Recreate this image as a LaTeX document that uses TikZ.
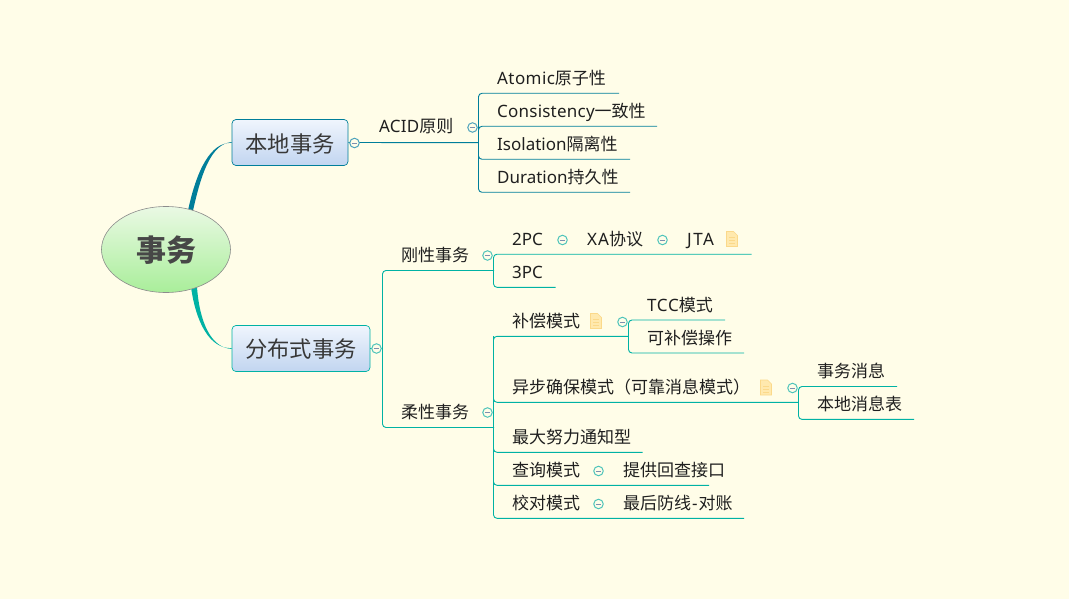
\documentclass[tikz,border=0pt]{standalone}
\usepackage{fontspec}
\setmainfont{Noto Sans CJK SC}
\newfontfamily\lat{Noto Sans}
\newcommand{\lsp}[2]{{\lat\addfontfeature{LetterSpace=#1}#2}}
\usetikzlibrary{backgrounds,shapes.geometric}
\definecolor{bgc}{HTML}{FFFDE8}
\definecolor{tealA}{HTML}{007E9A}
\definecolor{tealB}{HTML}{00B2A4}
\definecolor{ringA}{HTML}{4FA3BC}
\definecolor{ringB}{HTML}{4FC4BA}
\definecolor{minusc}{HTML}{7C8FB0}
\definecolor{boxtop}{HTML}{EFF5FD}
\definecolor{boxbot}{HTML}{C2D5F0}
\definecolor{rt}{HTML}{EAF9E4}
\definecolor{rb}{HTML}{A9EE9A}
\definecolor{noteF}{HTML}{FFE9AE}
\definecolor{noteD}{HTML}{FBD98A}
\tikzset{
  x=1pt,y=-1pt,
  lbl/.style={anchor=base west,inner sep=0pt,font=\fontsize{17}{20}\selectfont,text=black!88},
  topic/.style={draw,rounded corners=4pt,line width=0.7pt,top color=boxtop,bottom color=boxbot,minimum height=46pt,inner sep=0pt,font=\fontsize{22.3}{26}\selectfont,text=black!78},
  rootn/.style={ellipse,draw=black!45,line width=0.6pt,top color=rt,bottom color=rb,minimum width=129pt,minimum height=86pt,inner sep=0pt,font=\fontsize{30}{34}\selectfont\bfseries,text=black!72},
  ring/.style={circle,draw=#1,fill=bgc,line width=1pt,minimum size=9.5pt,inner sep=0pt,path picture={\draw[minusc,line width=0.7pt] ([xshift=-2.6pt]path picture bounding box.center) -- ([xshift=2.6pt]path picture bounding box.center);}},
  linkA/.style={draw=tealA,line width=0.9pt},
  linkB/.style={draw=tealB,line width=0.9pt},
  curve/.style={rounded corners=3.5pt},
  noteic/.style={inner sep=0pt,minimum width=12pt,minimum height=16pt,path picture={
    \begin{scope}[shift={(path picture bounding box.center)}]
    \filldraw[fill=noteF,draw=noteD,line width=0.6pt] (-5.5,-7.5) -- (1.5,-7.5) -- (5.5,-3.5) -- (5.5,7.5) -- (-5.5,7.5) -- cycle;
    \draw[noteD,line width=1pt] (-3,-1.5) -- (3,-1.5) (-3,1.5) -- (3,1.5) (-3,4.5) -- (3,4.5);
    \end{scope}}},
}
\begin{document}
\begin{tikzpicture}
\useasboundingbox (0,0) rectangle (1069,599);

% main nodes
\node[rootn] (root) at (166,249.5) {\raisebox{-12.4pt}[0pt][0pt]{事务}};
\node[topic,draw=tealA,minimum width=116pt] (b1) at (290,142.5) {\raisebox{-9.9pt}[0pt][0pt]{本地事务}\hspace{3.5pt}};
\node[topic,draw=tealB,minimum width=138pt] (b2) at (301,348.5) {\raisebox{-9.4pt}[0pt][0pt]{分布式事务}\hspace{3.5pt}};

% labels
\node[lbl] (acid) at (379,133) {\lsp{1.5}{ACID}原则};
\node[lbl] (a1) at (497,84.3) {\lsp{2.4}{Atomic}原子性};
\node[lbl] (a2) at (497,117.3) {\lsp{1.3}{Consistency}一致性};
\node[lbl] (a3) at (497,150.3) {{\lat Isolation}隔离性};
\node[lbl] (a4) at (497,183.3) {{\lat Duration}持久性};
\node[lbl] (rig) at (401,261) {刚性事务};
\node[lbl] (soft) at (401,418.5) {柔性事务};
\node[lbl] (pc2) at (512,245) {\lat 2PC};
\node[lbl] (xa) at (587,245) {\lsp{6}{XA}协议};
\node[lbl] (jta) at (687,245) {\lsp{9}{JTA}};
\node[lbl] (pc3) at (512,278) {\lat 3PC};
\node[lbl] (comp) at (512,327.3) {补偿模式};
\node[lbl] (tcc) at (647,311) {\lsp{4}{TCC}模式};
\node[lbl] (cop) at (647,344) {可补偿操作};
\node[lbl] (asyn) at (512,393.3) {异步确保模式（可靠消息模式）};
\node[lbl] (tm) at (817,377.5) {事务消息};
\node[lbl] (lt) at (817,410.4) {本地消息表};
\node[lbl] (best) at (512,443.3) {最大努力通知型};
\node[lbl] (qry) at (512,476.3) {查询模式};
\node[lbl] (qa) at (623,476.3) {提供回查接口};
\node[lbl] (chk) at (512,509.3) {校对模式};
\node[lbl] (ca) at (623,509.3) {最后防线\kern1pt{\lat -}\kern1pt 对账};

% note icons
\node[noteic] (n1) at (732,239) {};
\node[noteic] (n2) at (596,321) {};
\node[noteic] (n3) at (766,387.5) {};

% collapse rings
\node[ring=ringA] (r1) at (354.5,143) {};
\node[ring=ringA] (r2) at (472.5,127.5) {};
\node[ring=ringB] (r3) at (376.5,348.5) {};
\node[ring=ringB] (r4) at (487.5,255.5) {};
\node[ring=ringB] (r5) at (487.5,412.5) {};
\node[ring=ringB] (r6) at (562.5,240) {};
\node[ring=ringB] (r7) at (662.5,240) {};
\node[ring=ringB] (r8) at (622.5,322) {};
\node[ring=ringB] (r9) at (792.5,388) {};
\node[ring=ringB] (r10) at (598.5,471) {};
\node[ring=ringB] (r11) at (598.5,504) {};

% underline end points and spine points
\coordinate (s1a) at (478.5,93.3);   \coordinate (e1a) at (619,93.3);
\coordinate (s1b) at (478.5,126.3);  \coordinate (e1b) at (657,126.3);
\coordinate (s1c) at (478.5,159.3);  \coordinate (e1c) at (630,159.3);
\coordinate (s1d) at (478.5,192.3);  \coordinate (e1d) at (630,192.3);
\coordinate (j1) at (478.5,142.7);
\coordinate (s2a) at (382.5,270.5);  \coordinate (e2a) at (494,270.5);
\coordinate (s2b) at (382.5,427.5);  \coordinate (e2b) at (494,427.5);
\coordinate (j2) at (382.5,348.5);
\coordinate (s3a) at (493.5,254.2);  \coordinate (e3a) at (751.5,254.2);
\coordinate (s3b) at (493.5,287.3);  \coordinate (e3b) at (555.5,287.3);
\coordinate (s4a) at (493.5,336.3);  \coordinate (e4a) at (628.5,336.3);
\coordinate (s4b) at (493.5,402.3);  \coordinate (e4b) at (798.5,402.3);
\coordinate (s4c) at (493.5,452.3);  \coordinate (e4c) at (642.5,452.3);
\coordinate (s4d) at (493.5,485.3);  \coordinate (e4d) at (709,485.3);
\coordinate (s4e) at (493.5,518.3);  \coordinate (e4e) at (744,518.3);
\coordinate (s5a) at (628.5,320);    \coordinate (e5a) at (725,320);
\coordinate (s5b) at (628.5,353);    \coordinate (e5b) at (744,353);
\coordinate (s6a) at (798.5,386.5);  \coordinate (e6a) at (897,386.5);
\coordinate (s6b) at (798.5,419.4);  \coordinate (e6b) at (914,419.4);

\begin{scope}[on background layer]
  \fill[bgc] (0,0) rectangle (1069,599);
  % tapered main branches
  \fill[tealA] (187.5,213) .. controls (196.5,169) and (211,142) .. ([yshift=-0.4pt]b1.west) -- ([yshift=0.4pt]b1.west) .. controls (212,143.5) and (201.5,171) .. (192.5,213) -- cycle;
  \fill[tealB] (191,287) .. controls (196,323) and (210,349) .. ([yshift=0.4pt]b2.west) -- ([yshift=-0.4pt]b2.west) .. controls (211,348) and (199.5,322) .. (197,287) -- cycle;
  % local transaction
  \path[linkA] (b1.east) -- (j1);
  \path[linkA,curve] (e1a) -- (s1a) -- (s1d) -- (e1d);
  \path[linkA,curve] (j1) -- (s1b) -- (e1b);
  \path[linkA,curve] (j1) -- (s1c) -- (e1c);
  % distributed
  \path[linkB] (b2.east) -- (j2);
  \path[linkB,curve] (e2a) -- (s2a) -- (s2b) -- (e2b);
  \path[linkB,curve] (e3a) -- (s3a) -- (s3b) -- (e3b);
  \path[linkB,curve] (e4a) -- (s4a) -- (s4e) -- (e4e);
  \path[linkB,curve] (s4a) -- (s4b) -- (e4b);
  \path[linkB,curve] (s4a) -- (s4c) -- (e4c);
  \path[linkB,curve] (s4a) -- (s4d) -- (e4d);
  \path[linkB,curve] (e5a) -- (s5a) -- (s5b) -- (e5b);
  \path[linkB,curve] (e6a) -- (s6a) -- (s6b) -- (e6b);
\end{scope}
\end{tikzpicture}
\end{document}
